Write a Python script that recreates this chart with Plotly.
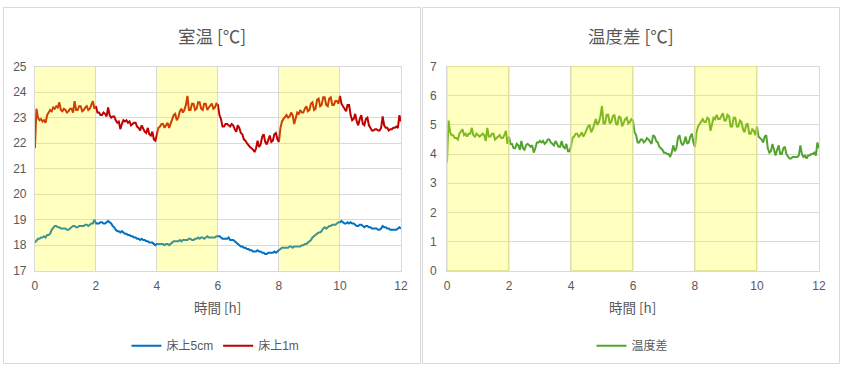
import plotly.graph_objects as go

# time [h], logged every 3 minutes
hours = [round(i * 0.05, 2) for i in range(241)]

# 床上1m [°C]
temp_1m = [
    21.8, 23.35, 23.0, 22.9, 22.95, 22.85, 22.9, 22.8, 23.1, 23.2,
    23.3, 23.25, 23.4, 23.35, 23.45, 23.4, 23.6, 23.3, 23.25, 23.35,
    23.3, 23.2, 23.25, 23.35, 23.35, 23.2, 23.65, 23.3, 23.3, 23.45,
    23.45, 23.25, 23.3, 23.4, 23.45, 23.3, 23.35, 23.5, 23.65, 23.35,
    23.45, 23.2, 23.2, 23.1, 23.1, 23.2, 23.15, 23.05, 23.4, 23.1,
    23.0, 23.05, 23.05, 22.9, 22.8, 22.85, 22.55, 22.75, 22.9, 22.85,
    22.9, 22.8, 22.85, 22.7, 22.75, 22.8, 22.8, 22.65, 22.6, 22.5,
    22.7, 22.55, 22.45, 22.4, 22.6, 22.35, 22.3, 22.45, 22.15, 22.1,
    22.3, 22.6, 22.65, 22.75, 22.75, 22.6, 22.7, 22.8, 22.6, 22.75,
    22.95, 23.1, 23.15, 22.9, 23.0, 23.25, 23.35, 23.2, 23.3, 23.5,
    23.85, 23.3, 23.3, 23.55, 23.55, 23.3, 23.35, 23.6, 23.6, 23.35,
    23.3, 23.55, 23.55, 23.3, 23.4, 23.5, 23.55, 23.35, 23.4, 23.55,
    23.5, 23.1, 22.95, 22.65, 22.65, 22.75, 22.75, 22.7, 22.65, 22.75,
    22.7, 22.55, 22.45, 22.7, 22.6, 22.4, 22.35, 22.15, 22.1, 22.0,
    21.9, 21.85, 21.8, 21.75, 21.65, 21.8, 22.1, 21.85, 21.95, 22.25,
    22.35, 22.05, 21.95, 22.1, 22.3, 22.05, 22.1, 22.35, 22.4, 22.15,
    22.05, 22.6, 22.85, 22.95, 23.05, 23.1, 23.0, 23.05, 23.2, 23.1,
    22.75, 22.95, 23.2, 23.15, 23.3, 23.2, 23.2, 23.35, 23.45, 23.25,
    23.3, 23.55, 23.6, 23.3, 23.35, 23.7, 23.75, 23.45, 23.5, 23.8,
    23.8, 23.5, 23.45, 23.75, 23.8, 23.5, 23.5, 23.65, 23.65, 23.55,
    23.85, 23.55, 23.45, 23.35, 23.25, 23.5, 23.5, 23.1, 22.9, 22.95,
    23.15, 22.85, 22.7, 22.95, 23.1, 22.75, 22.7, 22.95, 23.0, 22.7,
    22.6, 22.5, 22.5, 22.55, 22.55, 22.5, 22.5, 22.6, 23.05, 22.7,
    22.6, 22.6, 22.5, 22.55, 22.55, 22.6, 22.6, 22.65, 22.6, 23.1,
    22.85,
]

# 床上5cm [°C]
temp_5cm = [
    18.1, 18.2, 18.25, 18.25, 18.3, 18.3, 18.35, 18.3, 18.4, 18.4,
    18.45, 18.6, 18.7, 18.75, 18.75, 18.7, 18.7, 18.65, 18.65, 18.65,
    18.65, 18.6, 18.6, 18.65, 18.7, 18.75, 18.75, 18.7, 18.7, 18.75,
    18.75, 18.75, 18.75, 18.8, 18.8, 18.75, 18.8, 18.85, 18.85, 19.0,
    18.85, 18.85, 18.85, 18.9, 18.9, 18.85, 18.85, 18.9, 18.95, 18.9,
    18.85, 18.75, 18.7, 18.6, 18.55, 18.55, 18.5, 18.55, 18.5, 18.45,
    18.45, 18.4, 18.4, 18.35, 18.35, 18.3, 18.3, 18.25, 18.25, 18.2,
    18.25, 18.2, 18.2, 18.15, 18.15, 18.1, 18.1, 18.1, 18.05, 18.0,
    18.05, 18.05, 18.05, 18.05, 18.05, 18.0, 18.05, 18.05, 18.0, 18.05,
    18.1, 18.15, 18.15, 18.15, 18.15, 18.2, 18.15, 18.2, 18.2, 18.2,
    18.2, 18.25, 18.25, 18.2, 18.2, 18.25, 18.25, 18.3, 18.25, 18.3,
    18.3, 18.25, 18.3, 18.35, 18.3, 18.3, 18.3, 18.3, 18.3, 18.35,
    18.35, 18.35, 18.3, 18.25, 18.25, 18.25, 18.25, 18.3, 18.2, 18.2,
    18.2, 18.15, 18.1, 18.05, 18.0, 17.95, 17.95, 17.9, 17.9, 17.85,
    17.85, 17.8, 17.8, 17.75, 17.75, 17.75, 17.8, 17.75, 17.75, 17.7,
    17.7, 17.65, 17.65, 17.7, 17.7, 17.7, 17.7, 17.75, 17.7, 17.75,
    17.8, 17.85, 17.9, 17.9, 17.9, 17.9, 17.9, 17.95, 17.95, 17.9,
    17.95, 17.95, 17.95, 17.95, 17.95, 18.0, 18.0, 18.05, 18.05, 18.1,
    18.15, 18.2, 18.3, 18.35, 18.4, 18.45, 18.5, 18.5, 18.55, 18.65,
    18.7, 18.65, 18.7, 18.75, 18.75, 18.8, 18.8, 18.8, 18.85, 18.9,
    18.9, 18.95, 18.9, 18.85, 18.85, 18.9, 18.85, 18.9, 18.85, 18.85,
    18.8, 18.75, 18.75, 18.8, 18.8, 18.75, 18.7, 18.75, 18.75, 18.7,
    18.7, 18.65, 18.65, 18.65, 18.65, 18.6, 18.6, 18.65, 18.75, 18.7,
    18.7, 18.65, 18.65, 18.6, 18.6, 18.6, 18.6, 18.6, 18.65, 18.7,
    18.65,
]

assert len(temp_1m) == len(hours) and len(temp_5cm) == len(hours)

# 温度差 = 床上1m - 床上5cm
temp_diff = [round(a - b, 2) for a, b in zip(temp_1m, temp_5cm)]

# heating periods (shaded)
shade_periods = [(0, 2), (4, 6), (8, 10)]

x_ticks = [0, 2, 4, 6, 8, 10, 12]

W, H = 847, 371
FONT = "Liberation Sans, Arial, Noto Sans CJK JP, sans-serif"
JFONT = "Noto Sans CJK JP, sans-serif"
GRAY = "#595959"
GRID = "#D9D9D9"


def px_x(p):
    return p / W


def px_y(p):
    return 1 - p / H


fig = go.Figure()
fig.add_trace(go.Scatter(x=hours, y=temp_5cm, mode="lines", name="床上5cm",
                         line=dict(color="#0070C0", width=2), xaxis="x", yaxis="y",
                         legend="legend"))
fig.add_trace(go.Scatter(x=hours, y=temp_1m, mode="lines", name="床上1m",
                         line=dict(color="#C00000", width=2), xaxis="x", yaxis="y",
                         legend="legend"))
fig.add_trace(go.Scatter(x=hours, y=temp_diff, mode="lines", name="温度差",
                         line=dict(color="#55A32F", width=2), xaxis="x2", yaxis="y2",
                         legend="legend2"))

axis_common = dict(showgrid=True, gridcolor=GRID, gridwidth=1, zeroline=False,
                   showline=True, linecolor=GRID, mirror=True, ticks="",
                   tickfont=dict(family=FONT, size=12, color=GRAY))

ydom = [px_y(274), px_y(62)]
fig.update_layout(
    width=W, height=H, margin=dict(l=0, r=0, t=0, b=0),
    paper_bgcolor="white", plot_bgcolor="white",
    font=dict(family=FONT, color=GRAY),
    xaxis=dict(domain=[px_x(32.3), px_x(402.7)], range=[0, 12], tickvals=x_ticks,
               anchor="y", ticklabelstandoff=4, **axis_common),
    yaxis=dict(domain=ydom, range=[17, 25], dtick=1, anchor="x",
               ticklabelstandoff=5, **axis_common),
    xaxis2=dict(domain=[px_x(449.3), px_x(825.7)], range=[0, 12], tickvals=x_ticks,
                anchor="y2", ticklabelstandoff=4, **axis_common),
    yaxis2=dict(domain=ydom, range=[0, 7], dtick=1, anchor="x2",
                ticklabelstandoff=7, **axis_common),
    legend=dict(orientation="h", x=px_x(215), y=px_y(352), xanchor="center",
                yanchor="middle", font=dict(family=FONT, size=12, color=GRAY),
                bgcolor="rgba(0,0,0,0)"),
    legend2=dict(orientation="h", x=px_x(637), y=px_y(352), xanchor="center",
                 yanchor="middle", font=dict(family=FONT, size=12, color=GRAY),
                 bgcolor="rgba(0,0,0,0)"),
    showlegend=True,
)

for a, b in shade_periods:
    fig.add_shape(type="rect", xref="x", yref="y domain", x0=a, x1=b, y0=0, y1=1,
                  fillcolor="rgba(255,255,0,0.25)", line=dict(width=0), layer="above")
    fig.add_shape(type="rect", xref="x2", yref="y2 domain", x0=a, x1=b, y0=0, y1=1,
                  fillcolor="rgba(255,255,0,0.25)",
                  line=dict(width=1, color="rgba(225,225,140,1)"), layer="above")

# panel borders
fig.add_shape(type="rect", xref="paper", yref="paper", x0=px_x(0.5), x1=px_x(422.5),
              y0=px_y(370.5), y1=px_y(0.5), line=dict(color=GRID, width=1), layer="below")
fig.add_shape(type="rect", xref="paper", yref="paper", x0=px_x(424.5), x1=px_x(846.5),
              y0=px_y(370.5), y1=px_y(0.5), line=dict(color=GRID, width=1), layer="below")

# titles
for txt, xc in [("室温 [℃]", 212), ("温度差 [℃]", 635)]:
    fig.add_annotation(text=txt, xref="paper", yref="paper", x=px_x(xc), y=px_y(30),
                       showarrow=False, xanchor="center", yanchor="middle",
                       font=dict(family=JFONT, size=17.5, color=GRAY))
for xc in [217, 637]:
    fig.add_annotation(text="時間 [h]", xref="paper", yref="paper", x=px_x(xc), y=px_y(312),
                       showarrow=False, xanchor="center", yanchor="middle",
                       font=dict(family=JFONT, size=13.5, color=GRAY))

# the page body has a default margin; remove it so the figure fills the window
fig.write_html(
    "out.html",
    config={"displayModeBar": False},
    post_script=(
        "document.documentElement.style.margin='0';"
        "document.body.style.margin='0';"
        "document.body.style.padding='0';"
    ),
)
